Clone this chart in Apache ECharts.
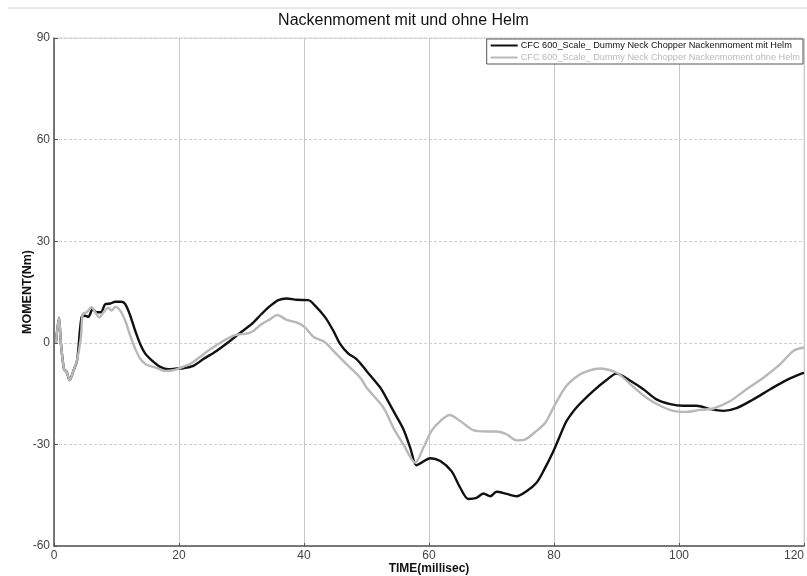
<!DOCTYPE html>
<html>
<head>
<meta charset="utf-8">
<script src="https://cdn.jsdelivr.net/npm/echarts@6/dist/echarts.min.js"></script>
<style>
  html, body { margin: 0; padding: 0; background: #fff; }
  #chart { width: 807px; height: 576px; }
</style>
</head>
<body>
<div id="chart"></div>
<script>
// Neck moment over time, with and without helmet
const seriesNames = [
  'CFC 600_Scale_ Dummy Neck Chopper Nackenmoment mit Helm',
  'CFC 600_Scale_ Dummy Neck Chopper Nackenmoment ohne Helm'
];

const xTicks = [0, 20, 40, 60, 80, 100, 120];
const yTicks = [-60, -30, 0, 30, 60, 90];

// With helmet (ms, Nm)
const timeMit = [0.3, 0.8, 1.1, 1.6, 2.0, 2.5, 3.1, 3.7, 4.4, 5.0, 5.5, 6.2, 6.8, 7.5, 8.2, 9.0, 9.8, 10.8, 11.4,
  12.2, 13.0, 13.8, 14.6, 15.6, 17.0, 18.3, 19.6, 20.7, 22.3, 23.9, 26.0, 28.2, 29.8, 31.6, 33.2, 34.6, 35.9,
  37.2, 38.8, 40.7, 41.8, 43.4, 44.7, 45.8, 47.1, 48.4, 50.0, 52.2, 52.7, 54.3, 55.9, 57.0, 58.0, 58.8, 60.2,
  61.8, 63.6, 65.0, 66.3, 67.6, 68.7, 69.8, 70.8, 72.4, 74.0, 75.6, 77.2, 78.3, 79.9, 81.5, 82.0, 83.6, 86.3,
  88.4, 90.0, 92.2, 94.3, 96.4, 98.6, 100.7, 102.8, 105.0, 107.1, 109.2, 111.9, 114.6, 117.2, 120.0];
const momentMit = [0, 7.4, 0, -7.8, -8.5, -11, -8.3, -5.1, 7.5, 8.0, 7.7, 10, 9, 9, 11.4, 11.6, 12.1, 12.1, 11.4,
  8, 3.5, -0.4, -3.2, -5.1, -7.1, -7.8, -7.6, -7.5, -6.8, -4.8, -2.4, 0.6, 3.0, 5.5, 8.5, 10.9, 12.6,
  13.1, 12.7, 12.6, 10.9, 7.5, 3.5, -0.4, -3.2, -4.8, -8.3, -13.2, -14.7, -20.1, -25.5, -31, -36.2, -35.4, -34.1,
  -34.9, -37.9, -42.8, -46.1, -45.8, -44.5, -45.3, -44.0, -44.6, -45.3, -43.8, -41.3, -37.9, -32, -25.1, -23.1, -19.1, -14.2,
  -11.0, -9.1, -11.2, -13.7, -16.7, -18.1, -18.6, -18.6, -19.6, -20.1, -19.3, -16.7, -13.7, -11.0, -8.8];

// Without helmet (ms, Nm)
const timeOhne = [0.3, 0.8, 1.1, 1.6, 2.0, 2.5, 3.1, 3.7, 4.3, 4.6, 5.2, 6.0, 6.6, 7.25, 7.9, 8.7, 9.2, 9.8, 10.6,
  11.4, 12.2, 13.0, 13.8, 14.8, 16.4, 17.8, 19.1, 20.2, 21.8, 23.4, 25.0, 28.7, 31.4, 33.2, 34.6, 35.7, 37.2,
  38.8, 40.2, 41.5, 43.4, 44.7, 46.8, 49.0, 50.0, 52.7, 54.3, 55.9, 57.8, 59.1, 60.4, 61.8, 63.3, 65.0, 67.1,
  69.2, 70.8, 72.4, 74.0, 75.4, 77.2, 78.6, 80.2, 82.0, 84.0, 85.5, 87.4, 89.0, 90.3, 92.2, 94.8, 97.0, 99.1,
  101.2, 103.4, 105.5, 108.2, 110.8, 113.5, 116.2, 118.3, 120.0];
const momentOhne = [0, 7.4, 0, -7.8, -8.5, -11, -8.3, -5.1, 1.6, 8.5, 9.0, 10.5, 9, 7.5, 9, 10.4, 9.5, 10.6, 9.5,
  6.5, 2.1, -1.8, -4.7, -6.5, -7.4, -8.3, -8.1, -7.4, -6.2, -4.1, -1.9, 2.1, 3.0, 5.5, 7.0, 8.2, 6.8,
  6.0, 4.5, 1.8, 0.1, -2.4, -6.3, -10.3, -13.2, -19.1, -25.1, -30, -35.4, -31, -26, -23.1, -21.3, -23.1, -25.8,
  -26.2, -26.2, -27.0, -28.8, -28.5, -26, -23.6, -18.1, -12.7, -9.5, -8.3, -7.6, -8.1, -9.1, -12.2, -16.2, -18.6, -20.1,
  -20.4, -19.8, -19.4, -17.2, -13.7, -10.3, -6.3, -2.4, -1.4];

const pairs = (xs, ys) => xs.map((x, i) => [x, ys[i]]);

const chart = echarts.init(document.getElementById('chart'));
const font = '"Liberation Sans", Arial, sans-serif';

chart.setOption({
  animation: false,
  backgroundColor: '#ffffff',
  title: {
    text: 'Nackenmoment mit und ohne Helm',
    left: 'center',
    top: 8,
    textStyle: { fontFamily: font, fontSize: 16, fontWeight: 'normal', color: '#111' }
  },
  legend: {
    right: 4,
    top: 39,
    orient: 'vertical',
    itemGap: 3,
    itemWidth: 27,
    itemHeight: 2,
    padding: [2, 3, 2, 4],
    borderColor: '#555',
    borderWidth: 1,
    backgroundColor: '#fff',
    icon: 'rect',
    textStyle: { fontFamily: font, fontSize: 9.2, padding: [0, 0, 0, -2] },
    data: [
      { name: seriesNames[0], textStyle: { color: '#111' } },
      { name: seriesNames[1], textStyle: { color: '#b8b8b8' } }
    ]
  },
  grid: { left: 54, right: 3, top: 38, bottom: 30, containLabel: false, outerBoundsMode: 'none' },
  graphic: [{
    type: 'line',
    shape: { x1: 8, y1: 8, x2: 807, y2: 8 },
    style: { stroke: '#d0d0d0', lineWidth: 1 },
    silent: true
  }, {
    type: 'rect',
    shape: { x: 54, y: 38, width: 750, height: 508 },
    style: { fill: 'none', stroke: '#d4d4d4', lineWidth: 1 },
    silent: true,
    z: -1
  }],
  xAxis: {
    type: 'value',
    min: xTicks[0],
    max: xTicks[xTicks.length - 1],
    interval: 20,
    name: 'TIME(millisec)',
    nameLocation: 'middle',
    nameGap: 17,
    nameMoveOverlap: false,
    nameTextStyle: { fontFamily: font, fontSize: 12, fontWeight: 'bold', color: '#111' },
    axisLine: { onZero: false, lineStyle: { color: '#555', width: 1.5 } },
    axisTick: { show: true, inside: true, length: 3, lineStyle: { color: '#555' } },
    axisLabel: { fontFamily: font, fontSize: 12, color: '#444', margin: 4, alignMaxLabel: 'right' },
    splitLine: { show: true, lineStyle: { color: '#c8c8c8', width: 1, type: 'solid' } }
  },
  yAxis: {
    type: 'value',
    min: yTicks[0],
    max: yTicks[yTicks.length - 1],
    interval: 30,
    name: 'MOMENT(Nm)',
    nameLocation: 'middle',
    nameGap: 20,
    nameMoveOverlap: false,
    nameTextStyle: { fontFamily: font, fontSize: 12.5, fontWeight: 'bold', color: '#111' },
    axisLine: { show: true, onZero: false, lineStyle: { color: '#555', width: 1.5 } },
    axisTick: { show: true, inside: true, length: 4, lineStyle: { color: '#555' } },
    axisLabel: { fontFamily: font, fontSize: 12, color: '#444', margin: 4 },
    splitLine: { show: true, lineStyle: { color: '#cfcfcf', width: 1, type: [3, 2] } }
  },
  series: [{
    name: seriesNames[0],
    type: 'line',
    data: pairs(timeMit, momentMit),
    showSymbol: false,
    smooth: 0.3,
    color: '#111111',
    lineStyle: { width: 2.4, color: '#111111' },
    z: 2
  }, {
    name: seriesNames[1],
    type: 'line',
    data: pairs(timeOhne, momentOhne),
    showSymbol: false,
    smooth: 0.3,
    color: '#b8b8b8',
    lineStyle: { width: 2.4, color: '#b8b8b8' },
    z: 3
  }]
});
</script>
</body>
</html>
